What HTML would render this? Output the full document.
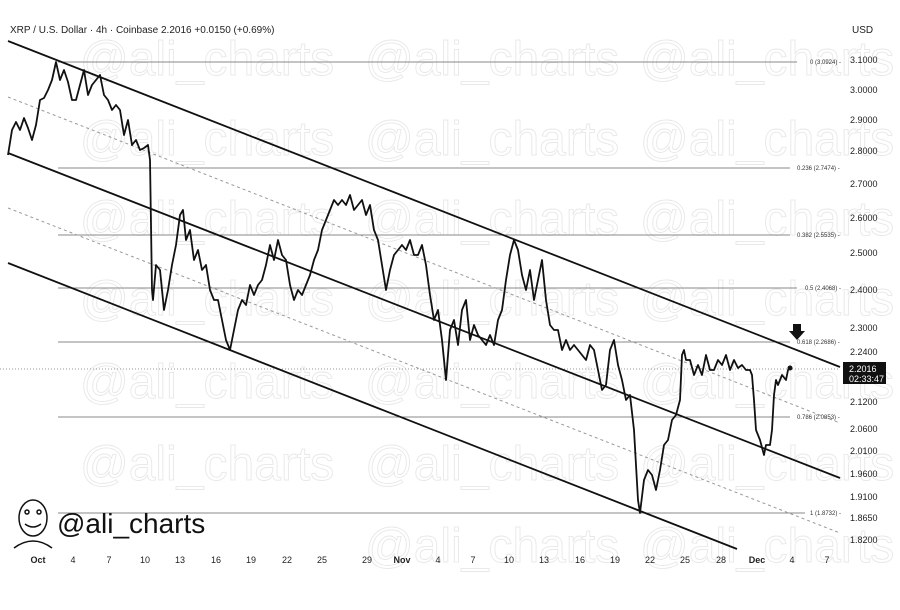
<!DOCTYPE html><html><head><style>body{margin:0;background:#fff}svg{display:block;font-family:"Liberation Sans",sans-serif}</style></head><body>
<svg width="900" height="610" viewBox="0 0 900 610" xmlns="http://www.w3.org/2000/svg">
<rect width="900" height="610" fill="#fff"/>
<g fill="none" stroke="#e8e8e8" stroke-width="0.9" font-size="48">
<text x="365" y="75">@ali_charts</text><text x="640" y="75">@ali_charts</text><text x="80" y="75">@ali_charts</text>
<text x="365" y="155">@ali_charts</text><text x="640" y="155">@ali_charts</text><text x="80" y="155">@ali_charts</text>
<text x="365" y="235">@ali_charts</text><text x="640" y="235">@ali_charts</text><text x="80" y="235">@ali_charts</text>
<text x="365" y="315">@ali_charts</text><text x="640" y="315">@ali_charts</text><text x="80" y="315">@ali_charts</text>
<text x="365" y="398">@ali_charts</text><text x="640" y="398">@ali_charts</text><text x="80" y="398">@ali_charts</text>
<text x="365" y="480">@ali_charts</text><text x="640" y="480">@ali_charts</text><text x="80" y="480">@ali_charts</text>
<text x="365" y="562">@ali_charts</text><text x="640" y="562">@ali_charts</text>
</g>
<text x="10" y="33" font-size="10" fill="#222">XRP / U.S. Dollar · 4h · Coinbase  2.2016  +0.0150 (+0.69%)</text>
<text x="852" y="33" font-size="10" fill="#222">USD</text>
<g stroke="#888" stroke-width="1">
<line x1="58" y1="62" x2="797" y2="62"/><line x1="58" y1="168" x2="790" y2="168"/><line x1="58" y1="235" x2="790" y2="235"/>
<line x1="58" y1="288" x2="797" y2="288"/><line x1="58" y1="342" x2="790" y2="342"/><line x1="58" y1="417" x2="790" y2="417"/><line x1="58" y1="513" x2="805" y2="513"/>
</g>
<g font-size="6" fill="#333">
<text x="810" y="64">0 (3.0924) -</text><text x="797" y="170">0.236 (2.7474) -</text><text x="797" y="237">0.382 (2.5535) -</text>
<text x="805" y="290">0.5 (2.4068) -</text><text x="797" y="344">0.618 (2.2686) -</text><text x="797" y="419">0.786 (2.0853) -</text><text x="810" y="515">1 (1.8732) -</text>
</g>
<line x1="0" y1="369" x2="840" y2="369" stroke="#999" stroke-dasharray="1,2"/>
<g stroke="#111" stroke-width="1.8">
<line x1="8" y1="41" x2="840" y2="367"/><line x1="8" y1="153" x2="840" y2="478"/><line x1="8" y1="263" x2="737" y2="549"/>
</g>
<g stroke="#999" stroke-width="1" stroke-dasharray="3,3">
<line x1="8" y1="97" x2="840" y2="423"/><line x1="8" y1="208" x2="840" y2="533"/>
</g>
<polyline fill="none" stroke="#111" stroke-width="1.8" stroke-linejoin="round" points="8,155 12,130 16,122 20,130 24,118 28,128 32,140 36,125 40,100 44,98 48,90 52,80 56,62 60,80 64,70 68,82 72,100 76,100 80,85 84,70 88,95 92,85 96,80 100,75 104,95 108,100 112,110 116,105 120,110 124,135 128,120 132,145 136,140 140,150 144,148 148,145 150,160 152,290 153,300 156,265 160,270 164,310 168,290 172,265 176,245 180,215 183,210 186,240 190,230 194,260 198,250 202,270 206,265 210,290 214,300 218,300 222,320 226,340 230,350 234,330 238,310 242,300 246,305 250,285 254,295 258,285 262,280 266,265 270,245 274,260 278,240 282,255 286,260 290,285 294,300 298,290 302,295 306,285 310,275 314,260 318,250 322,230 326,220 330,210 334,200 338,205 342,200 346,205 350,195 354,210 358,205 362,200 366,215 370,205 374,230 378,240 382,265 386,290 390,270 394,255 398,250 402,245 406,250 410,240 414,255 418,255 422,245 426,265 430,295 434,320 438,310 442,340 446,380 450,330 454,320 458,345 462,310 466,300 470,340 474,325 478,335 482,340 486,345 490,335 494,345 498,320 502,310 506,280 510,255 514,240 518,250 522,275 526,290 530,270 534,300 538,280 542,260 546,300 550,325 554,330 558,330 562,350 566,340 570,350 574,345 578,350 582,355 586,360 590,345 594,350 598,370 602,390 606,385 610,350 614,340 618,365 622,380 626,400 630,395 634,430 638,500 640,513 644,480 648,470 652,475 656,490 660,470 664,445 668,440 672,420 676,415 680,400 682,355 684,350 686,360 690,360 694,375 698,365 702,375 706,355 710,370 714,370 718,360 722,365 726,355 730,370 734,360 738,368 742,365 746,370 750,370 752,375 754,400 756,430 760,440 764,455 766,445 770,445 772,430 774,395 776,380 778,385 782,375 786,380 788,370 790,368"/>
<circle cx="790" cy="368" r="2.5" fill="#111"/>
<path d="M793,324 h8 v7 h4 l-8,9 l-8,-9 h4z" fill="#111"/>
<g font-size="9" fill="#222">
<text x="850" y="63">3.1000</text><text x="850" y="93">3.0000</text><text x="850" y="123">2.9000</text><text x="850" y="154">2.8000</text>
<text x="850" y="187">2.7000</text><text x="850" y="221">2.6000</text><text x="850" y="256">2.5000</text><text x="850" y="293">2.4000</text>
<text x="850" y="331">2.3000</text><text x="850" y="355">2.2400</text><text x="850" y="405">2.1200</text><text x="850" y="432">2.0600</text>
<text x="850" y="454">2.0100</text><text x="850" y="477">1.9600</text><text x="850" y="500">1.9100</text><text x="850" y="521">1.8650</text><text x="850" y="543">1.8200</text>
</g>
<rect x="843" y="362" width="43" height="22" fill="#111"/>
<text x="849" y="372" font-size="9" fill="#fff">2.2016</text><text x="849" y="382" font-size="9" fill="#fff">02:33:47</text>
<g font-size="9" fill="#222" text-anchor="middle">
<text x="38" y="563" font-weight="bold">Oct</text><text x="73" y="563">4</text><text x="109" y="563">7</text><text x="145" y="563">10</text><text x="180" y="563">13</text><text x="216" y="563">16</text><text x="251" y="563">19</text><text x="287" y="563">22</text><text x="322" y="563">25</text><text x="367" y="563">29</text><text x="402" y="563" font-weight="bold">Nov</text><text x="438" y="563">4</text><text x="473" y="563">7</text><text x="509" y="563">10</text><text x="544" y="563">13</text><text x="580" y="563">16</text><text x="615" y="563">19</text><text x="650" y="563">22</text><text x="685" y="563">25</text><text x="721" y="563">28</text><text x="757" y="563" font-weight="bold">Dec</text><text x="792" y="563">4</text><text x="827" y="563">7</text>
</g>
<g fill="none" stroke="#111" stroke-width="1.5">
<ellipse cx="33" cy="518" rx="14" ry="18"/><path d="M25,524 q8,6 16,0"/><circle cx="27" cy="512" r="2"/><circle cx="39" cy="512" r="2"/><path d="M14,548 q19,-14 38,0"/>
</g>
<text x="57" y="533" font-size="28" fill="#111">@ali_charts</text>
</svg></body></html>
